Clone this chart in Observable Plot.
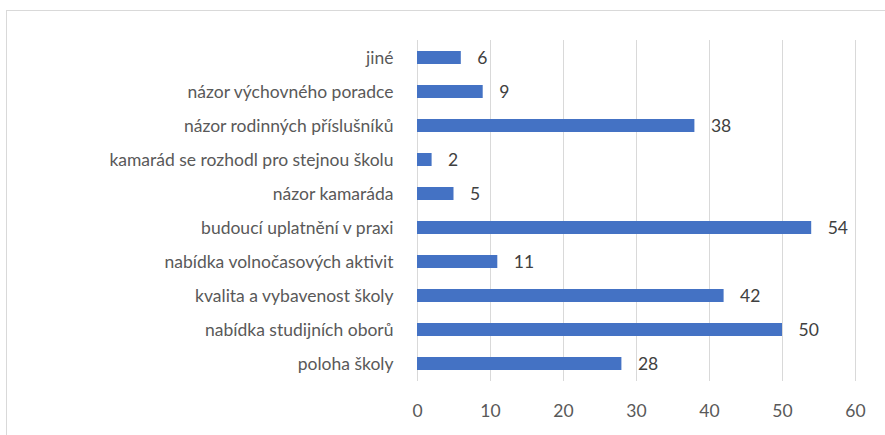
<!DOCTYPE html>
<html>
<head>
<meta charset="utf-8">
<script src="https://cdn.jsdelivr.net/npm/d3@7"></script>
<script src="https://cdn.jsdelivr.net/npm/@observablehq/plot@0.6"></script>
<style>
  html, body { margin: 0; padding: 0; background: #fff; overflow: hidden; }
  #wrap { position: relative; width: 885px; height: 435px; }
  #frame { position: absolute; left: 6px; top: 10px; width: 1000px; height: 1000px; border: 1px solid #d9d9d9; box-sizing: border-box; }
  #chart { position: absolute; left: 0; top: 0; }
</style>
</head>
<body>
<div id="wrap"><div id="frame"></div><div id="chart"></div></div>
<script>
const categories = [
  "jiné",
  "názor výchovného poradce",
  "názor rodinných příslušníků",
  "kamarád se rozhodl pro stejnou školu",
  "názor kamaráda",
  "budoucí uplatnění v praxi",
  "nabídka volnočasových aktivit",
  "kvalita a vybavenost školy",
  "nabídka studijních oborů",
  "poloha školy"
];
const values = [6, 9, 38, 2, 5, 54, 11, 42, 50, 28];
const xTicks = [0, 10, 20, 30, 40, 50, 60];

const data = categories.map((c, i) => ({category: c, value: values[i]}));

const chart = Plot.plot({
  width: 885,
  height: 435,
  marginLeft: 417,
  marginRight: 30,
  marginTop: 40,
  marginBottom: 54,
  style: {fontFamily: "Lato, 'Open Sans', sans-serif", fontSize: "17.5px", color: "#595959", background: "transparent"},
  x: {domain: [0, 60], ticks: xTicks, label: null, grid: false},
  y: {domain: categories, paddingInner: 0.62, paddingOuter: 0.31, align: 0.5, label: null},
  marks: [
    Plot.ruleX(xTicks, {stroke: "#d9d9d9", strokeWidth: 1}),
    Plot.barX(data, {x: "value", y: "category", fill: "#4472c4"}),
    Plot.text(data, {x: "value", y: "category", text: d => String(d.value), dx: 16, textAnchor: "start", fill: "#404040", fontSize: 17.5}),
    Plot.axisX({ticks: xTicks, tickSize: 0, tickPadding: 23, label: null, fill: "#595959", fontSize: 17.5}),
    Plot.axisY({tickSize: 0, tickPadding: 24, label: null, fill: "#595959", fontSize: 17.5})
  ]
});
document.getElementById("chart").appendChild(chart);
</script>
</body>
</html>
